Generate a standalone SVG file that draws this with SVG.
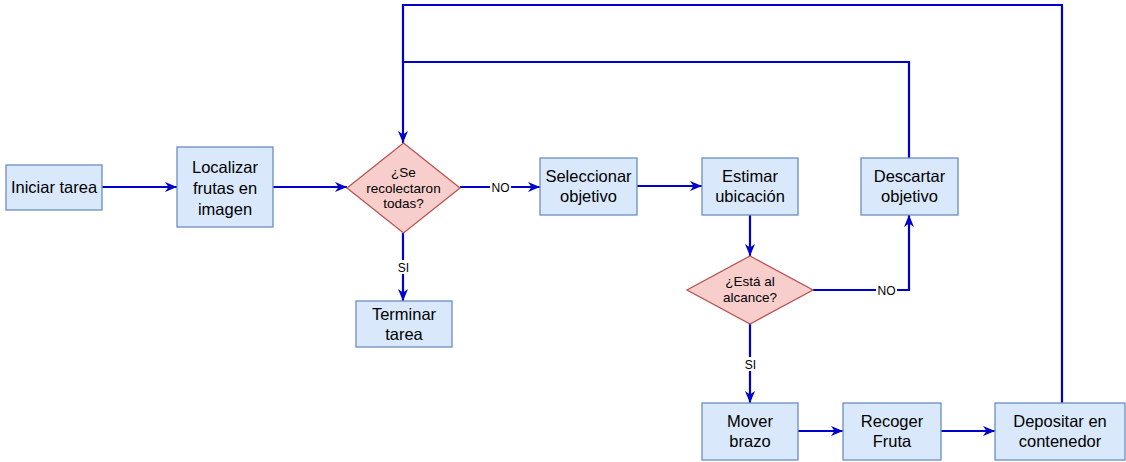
<svg xmlns="http://www.w3.org/2000/svg" width="1126" height="462" viewBox="0 0 1126 462">
<defs>
<style>
.box{fill:#dae8fc;stroke:#6c8ebf;stroke-width:1.3}
.dia{fill:#f8cecc;stroke:#b85450;stroke-width:1.3}
.t{font-family:"Liberation Sans",Arial,sans-serif;font-size:16.5px;fill:#000;text-anchor:middle}
.td{font-family:"Liberation Sans",Arial,sans-serif;font-size:13.5px;fill:#000;text-anchor:middle}
.lb{font-family:"Liberation Sans",Arial,sans-serif;font-size:12px;fill:#000;text-anchor:middle}
.e{fill:none;stroke:#0000cc;stroke-width:2.2}
.ea{fill:none;stroke:#0000cc;stroke-width:2.2;marker-end:url(#arr)}
</style>
<marker id="arr" markerUnits="userSpaceOnUse" markerWidth="14" markerHeight="12" refX="12" refY="5" orient="auto">
<path d="M0,0 L12,5 L0,10 L3.5,5 Z" fill="#0000cc"/>
</marker>
</defs>
<rect width="1126" height="462" fill="#fff"/>
<g id="connectors">
<path class="ea" d="M102,187 H177"/>
<path class="ea" d="M273,187 H347"/>
<path class="ea" d="M460,187 H540"/>
<path class="ea" d="M637,186 H702"/>
<path class="ea" d="M750,215 V256"/>
<path class="ea" d="M403,233 V301"/>
<path class="ea" d="M813,290 H909 V215"/>
<path class="ea" d="M750,324 V403"/>
<path class="ea" d="M798,431 H843"/>
<path class="ea" d="M941,431 H995"/>
<path class="e" d="M1062,403 V5 H403 V62"/>
<path class="ea" d="M909,158 V62 H403 V143"/>
<rect x="490" y="180" width="21" height="14" fill="#fff"/>
<text class="lb" x="500.5" y="191.5">NO</text>
<rect x="395" y="260" width="17" height="14" fill="#fff"/>
<text class="lb" x="403.5" y="271.5">SI</text>
<rect x="876" y="283" width="21" height="14" fill="#fff"/>
<text class="lb" x="886.5" y="294.5">NO</text>
<rect x="742" y="357" width="17" height="14" fill="#fff"/>
<text class="lb" x="750.5" y="368.5">SI</text>
</g>
<g id="n-iniciar"><rect class="box" x="6" y="165" width="96" height="45"/><text class="t" x="54" y="193">Iniciar tarea</text></g>
<g id="n-localizar"><rect class="box" x="177" y="147" width="96" height="80"/><text class="t" x="225" y="173">Localizar</text><text class="t" x="225" y="194">frutas en</text><text class="t" x="225" y="215">imagen</text></g>
<g id="n-recolectaron"><polygon class="dia" points="403.5,143 460,188 403.5,233 347,188"/><text class="td" x="403.5" y="177">¿Se</text><text class="td" x="403.5" y="192.5">recolectaron</text><text class="td" x="403.5" y="208">todas?</text></g>
<g id="n-terminar"><rect class="box" x="356" y="301" width="96" height="46"/><text class="t" x="404" y="320">Terminar</text><text class="t" x="404" y="340">tarea</text></g>
<g id="n-seleccionar"><rect class="box" x="540" y="158" width="97" height="57"/><text class="t" x="588.5" y="182">Seleccionar</text><text class="t" x="588.5" y="202">objetivo</text></g>
<g id="n-estimar"><rect class="box" x="702" y="158" width="96" height="57"/><text class="t" x="750" y="182">Estimar</text><text class="t" x="750" y="202">ubicación</text></g>
<g id="n-alcance"><polygon class="dia" points="750,256 813,290 750,324 687,290"/><text class="td" x="750" y="286">¿Está al</text><text class="td" x="750" y="302">alcance?</text></g>
<g id="n-descartar"><rect class="box" x="861" y="158" width="97" height="57"/><text class="t" x="909.5" y="182">Descartar</text><text class="t" x="909.5" y="202">objetivo</text></g>
<g id="n-mover"><rect class="box" x="702" y="403" width="96" height="57"/><text class="t" x="750" y="427">Mover</text><text class="t" x="750" y="447">brazo</text></g>
<g id="n-recoger"><rect class="box" x="843" y="403" width="98" height="57"/><text class="t" x="892" y="427">Recoger</text><text class="t" x="892" y="447">Fruta</text></g>
<g id="n-depositar"><rect class="box" x="995" y="403" width="130" height="57"/><text class="t" x="1060" y="427">Depositar en</text><text class="t" x="1060" y="447">contenedor</text></g>
</svg>
